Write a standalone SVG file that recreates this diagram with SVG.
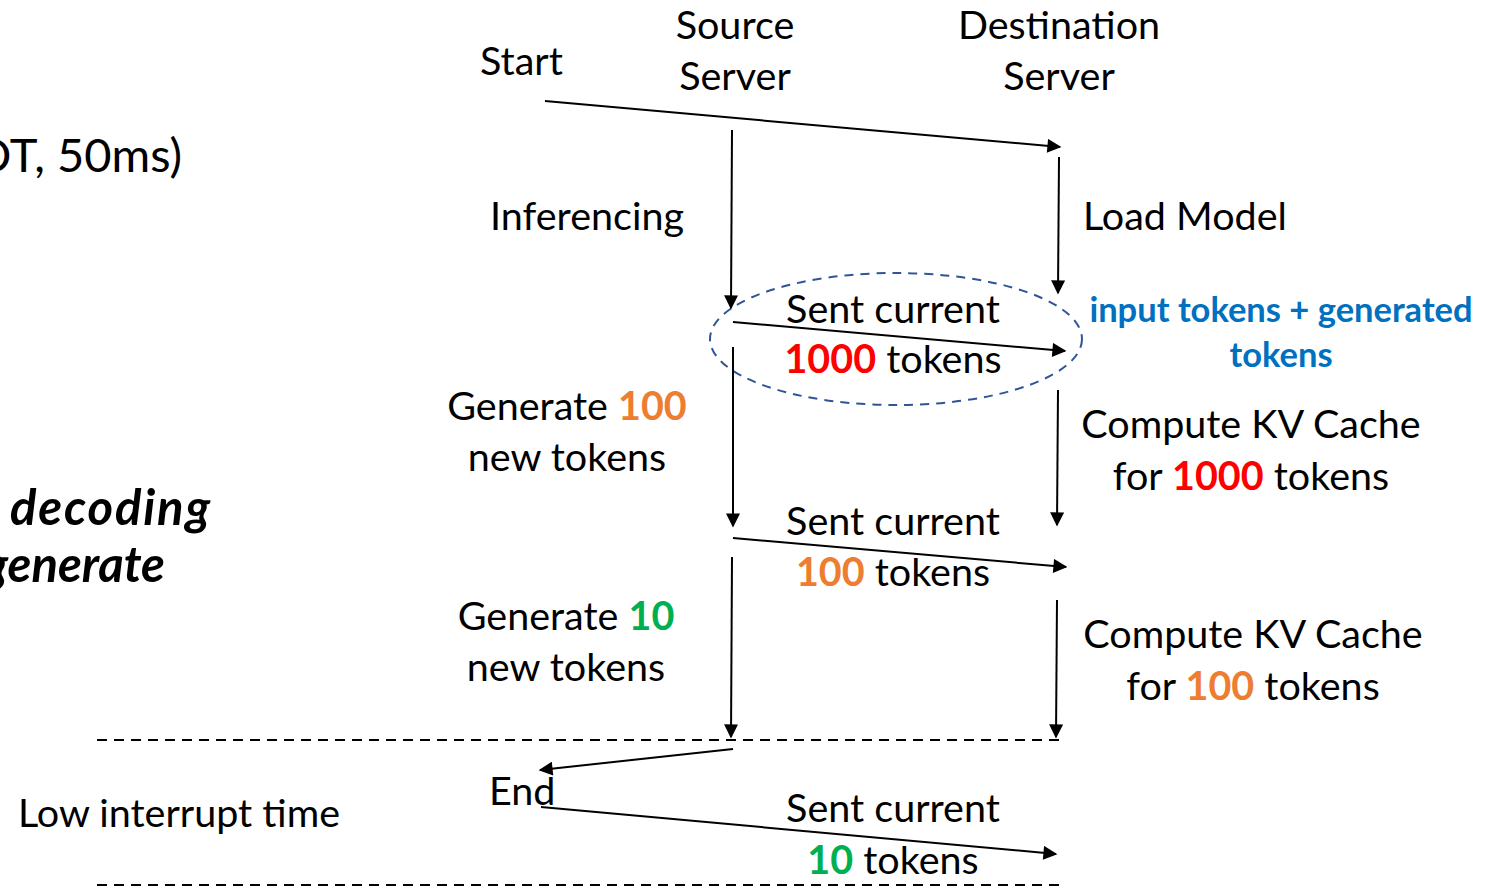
<svg xmlns="http://www.w3.org/2000/svg" width="1503" height="889" viewBox="0 0 1503 889">
  <style>
    text { font-family: Lato, "Open Sans", "Liberation Sans", sans-serif; font-size: 39.5px; fill: #000; }
    .c { text-anchor: middle; }
    .e { text-anchor: end; }
    .red { fill: #FF0000; font-weight: bold; }
    .org { fill: #ED7D31; font-weight: bold; }
    .grn { fill: #00B050; font-weight: bold; }
    .blue { fill: #0070C0; font-weight: bold; font-size: 34.5px; }
    .big { font-size: 47px; }
    .emph { font-size: 49px; font-weight: bold; font-style: italic; }
    .ln { stroke: #000; stroke-width: 2; fill: none; marker-end: url(#ah); }
    .dash { stroke: #000; stroke-width: 2; stroke-dasharray: 10 7; fill: none; }
  </style>
  <defs>
    <marker id="ah" viewBox="0 0 10 10" refX="9" refY="5" markerWidth="8" markerHeight="7" orient="auto" markerUnits="strokeWidth">
      <path d="M0,0 L10,5 L0,10 z" fill="#000"/>
    </marker>
  </defs>

  <rect width="1503" height="889" fill="#fff"/>

  <!-- side annotations -->
  <g id="side-notes">
    <text class="big e" x="182" y="172">OT, 50ms)</text>
    <text class="emph" x="10" y="525" textLength="200">decoding</text>
    <text class="emph e" x="165" y="582">generate</text>
    <text x="18" y="827">Low interrupt time</text>
  </g>

  <!-- column headers -->
  <g id="start"><text x="480" y="75">Start</text></g>
  <g id="source-server">
    <text class="c" x="735" y="39">Source</text>
    <text class="c" x="735" y="90">Server</text>
  </g>
  <g id="destination-server">
    <text class="c" x="1059" y="39">Destination</text>
    <text class="c" x="1059" y="90">Server</text>
  </g>

  <!-- step labels -->
  <g id="inferencing"><text class="e" x="684" y="230">Inferencing</text></g>
  <g id="load-model"><text x="1083" y="230">Load Model</text></g>

  <g id="transfer-1000">
    <ellipse cx="896" cy="339" rx="186" ry="66" fill="none" stroke="#2F5597" stroke-width="2" stroke-dasharray="9 7"/>
    <text class="c" x="893" y="323">Sent current</text>
    <text class="c" x="893" y="373"><tspan class="red">1000</tspan> tokens</text>
  </g>
  <g id="transfer-note">
    <text class="blue c" x="1281" y="322">input tokens + generated</text>
    <text class="blue c" x="1281" y="367">tokens</text>
  </g>

  <g id="generate-100">
    <text class="c" x="567" y="420">Generate <tspan class="org">100</tspan></text>
    <text class="c" x="567" y="471">new tokens</text>
  </g>
  <g id="kv-1000">
    <text class="c" x="1251" y="438">Compute KV Cache</text>
    <text class="c" x="1251" y="490">for <tspan class="red">1000</tspan> tokens</text>
  </g>

  <g id="transfer-100">
    <text class="c" x="893" y="535">Sent current</text>
    <text class="c" x="893" y="586"><tspan class="org">100</tspan> tokens</text>
  </g>

  <g id="generate-10">
    <text class="c" x="566" y="630">Generate <tspan class="grn">10</tspan></text>
    <text class="c" x="566" y="681">new tokens</text>
  </g>
  <g id="kv-100">
    <text class="c" x="1253" y="648">Compute KV Cache</text>
    <text class="c" x="1253" y="700">for <tspan class="org">100</tspan> tokens</text>
  </g>

  <g id="end"><text x="489" y="805">End</text></g>

  <g id="transfer-10">
    <text class="c" x="893" y="822">Sent current</text>
    <text class="c" x="893" y="874"><tspan class="grn">10</tspan> tokens</text>
  </g>

  <!-- connectors -->
  <g id="connectors">
    <line class="ln" x1="545" y1="101" x2="1060" y2="147"/>
    <line class="ln" x1="732" y1="130" x2="731" y2="308"/>
    <line class="ln" x1="1059" y1="157" x2="1058" y2="293"/>
    <line class="ln" x1="733" y1="322" x2="1065" y2="351"/>
    <line class="ln" x1="733" y1="347" x2="733" y2="526"/>
    <line class="ln" x1="1058" y1="390" x2="1057" y2="525"/>
    <line class="ln" x1="733" y1="538" x2="1066" y2="567"/>
    <line class="ln" x1="732" y1="557" x2="731" y2="737"/>
    <line class="ln" x1="1057" y1="600" x2="1056" y2="737"/>
    <line class="ln" x1="733" y1="749" x2="540" y2="770"/>
    <line class="ln" x1="541" y1="807" x2="1056" y2="854"/>
    <line class="dash" x1="97" y1="740" x2="1060" y2="740"/>
    <line class="dash" x1="97" y1="885" x2="1060" y2="885"/>
  </g>
</svg>
